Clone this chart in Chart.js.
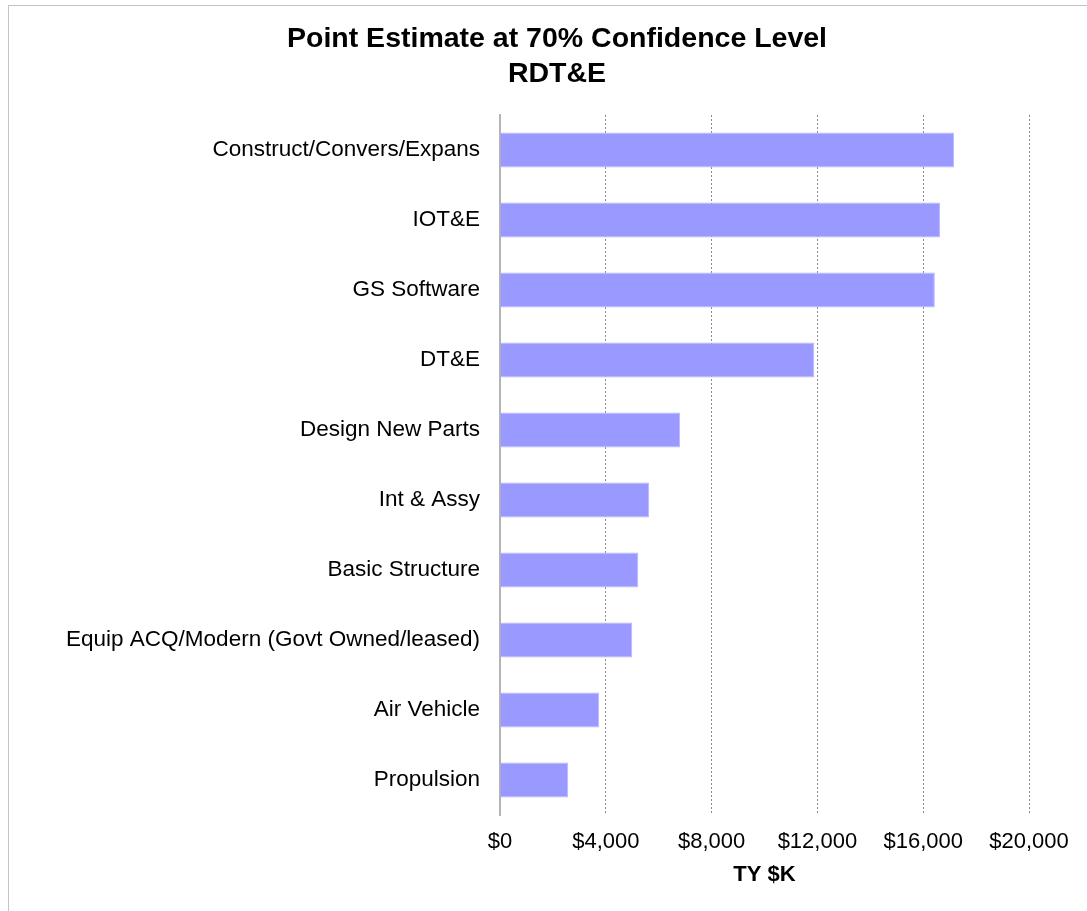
<!DOCTYPE html>
<html>
<head>
<meta charset="utf-8">
<script src="https://cdn.jsdelivr.net/npm/chart.js@4/dist/chart.umd.min.js"></script>
<style>
  html,body{margin:0;padding:0;background:#fff;}
  #wrap{position:relative;width:1087px;height:911px;overflow:hidden;}
  #frame{position:absolute;left:8px;top:5px;right:-2px;bottom:-2px;border-top:1px solid #c4c4c4;border-left:1px solid #c4c4c4;}
  canvas{position:absolute;left:0;top:0;}
</style>
</head>
<body>
<div id="wrap">
  <div id="frame"></div>
  <canvas id="chart" width="1087" height="911"></canvas>
</div>
<script>
/* Point estimate at 70% confidence, RDT&E (TY $K) */
const titleLines=['Point Estimate at 70% Confidence Level','RDT&E'];
const categories=['Construct/Convers/Expans','IOT&E','GS Software','DT&E','Design New Parts',
  'Int & Assy','Basic Structure','Equip ACQ/Modern (Govt Owned/leased)','Air Vehicle','Propulsion'];
const values=[17170,16640,16440,11880,6810,5640,5230,5000,3750,2580];
const xTicks=[0,4000,8000,12000,16000,20000];
const xTitle='TY $K';

const FONT="'Liberation Sans', Arial, sans-serif";
const fmt=v=>'$'+Number(v).toLocaleString('en-US');

const titlePlugin={
  id:'bigTitle',
  afterDraw(chart){
    const c=chart.ctx;
    c.save();
    c.fillStyle='#000';
    c.font="bold 28.5px "+FONT;
    c.textAlign='center';
    c.textBaseline='alphabetic';
    titleLines.forEach((t,i)=>c.fillText(t,557,47+i*35));
    c.restore();
  }
};

new Chart(document.getElementById('chart'),{
  type:'bar',
  data:{labels:categories,datasets:[{
    data:values,backgroundColor:'#9999ff',borderColor:'#b8b8ff',borderWidth:1,
    barPercentage:0.5,categoryPercentage:1
  }]},
  options:{
    indexAxis:'y',responsive:false,animation:false,
    layout:{padding:{top:115,left:0,right:58,bottom:19}},
    plugins:{legend:{display:false},tooltip:{enabled:false},title:{display:false}},
    scales:{
      x:{
        min:0,max:20000,
        afterBuildTicks:s=>{s.ticks=xTicks.map(v=>({value:v}));},
        afterFit:s=>{s.height=77;},
        grid:{drawTicks:false,color:c=>c.tick&&c.tick.value===0?'rgba(0,0,0,0)':'#8a8a8a',lineWidth:1},
        border:{display:false,dash:[2,2]},
        ticks:{padding:14,color:'#000',font:{family:FONT,size:22},callback:v=>fmt(v),maxRotation:0},
        title:{display:true,text:xTitle,color:'#000',font:{family:FONT,size:22,weight:'bold'},padding:{top:2}}
      },
      y:{
        afterFit:s=>{s.width=500;},
        grid:{display:false,drawTicks:false},
        border:{display:true,color:'#b4b4b4',width:2},
        ticks:{padding:20,color:'#000',font:{family:FONT,size:22.5}}
      }
    }
  },
  plugins:[titlePlugin]
});
</script>
</body>
</html>
